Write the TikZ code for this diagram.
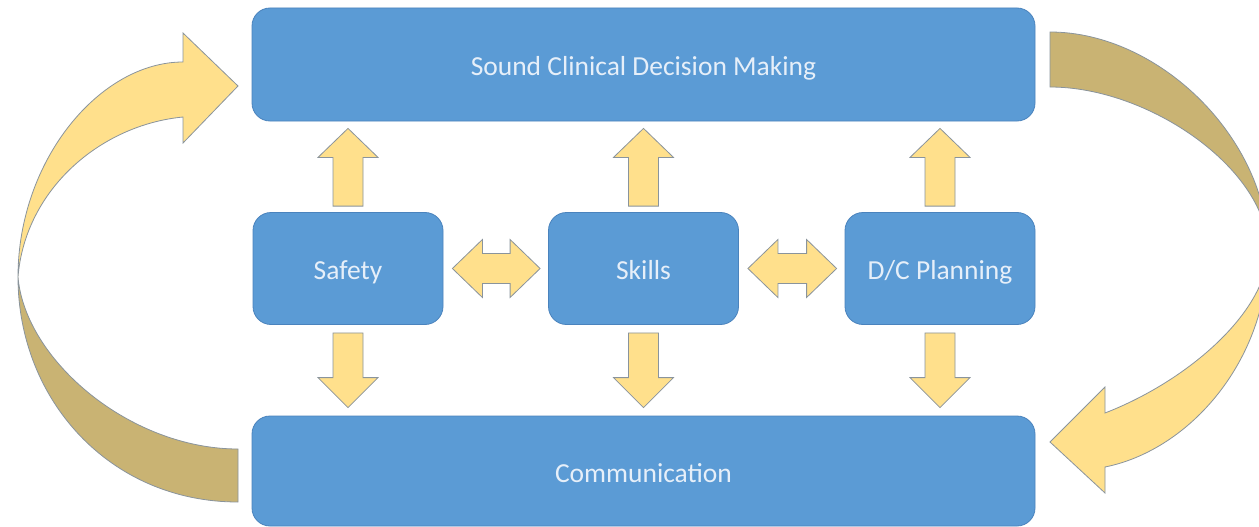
\documentclass[tikz,border=0pt]{standalone}
\usepackage{fontspec}
\setmainfont{Carlito}
\usetikzlibrary{calc}
\definecolor{boxblue}{HTML}{5B9BD5}
\definecolor{boxedge}{HTML}{4A83BD}
\definecolor{lighty}{HTML}{FFE08C}
\definecolor{darky}{HTML}{C9B373}
\definecolor{arredge}{HTML}{8A949C}
\definecolor{txt}{HTML}{E6EFF9}
\tikzset{
  box/.style={draw=boxedge, line width=0.8pt, fill=boxblue, rounded corners=18pt,
    text=txt, font=\fontsize{27.5}{32}\selectfont, inner sep=0pt,
    text height=22pt, text depth=0pt},
  bigbox/.style={box, minimum width=783pt, minimum height=113pt},
  midbox/.style={box, minimum width=190pt, minimum height=112pt},
  blockarrow/.style={draw=arredge, line width=0.8pt, fill=lighty, line join=miter},
  backband/.style={draw=arredge, line width=0.8pt, fill=darky, line join=miter},
  frontband/.style={draw=arredge, line width=0.8pt, fill=lighty, line join=miter}
}
\newcommand\uparr[2]{\draw[blockarrow] let \p1=($(#1.north)+(0,-6)$), \p2=($(#2.south)+(0,7)$) in
  (\x1-15pt,\y1) -- (\x1-15pt,\y2-29pt) -- (\x1-30pt,\y2-29pt) -- (\x1,\y2) --
  (\x1+30pt,\y2-29pt) -- (\x1+15pt,\y2-29pt) -- (\x1+15pt,\y1) -- cycle;}
\newcommand\downarr[2]{\draw[blockarrow] let \p1=($(#1.south)+(0,8)$), \p2=($(#2.north)+(0,-8)$) in
  (\x1-15pt,\y1) -- (\x1-15pt,\y2+30pt) -- (\x1-30pt,\y2+30pt) -- (\x1,\y2) --
  (\x1+30pt,\y2+30pt) -- (\x1+15pt,\y2+30pt) -- (\x1+15pt,\y1) -- cycle;}
\newcommand\dblarr[2]{\draw[blockarrow] let \p1=($(#1.east)+(9,0)$), \p2=($(#2.west)+(-8,0)$) in
  (\x1,\y1) -- (\x1+30pt,\y1+29pt) -- (\x1+30pt,\y1+15pt) -- (\x2-30pt,\y1+15pt) --
  (\x2-30pt,\y1+29pt) -- (\x2,\y1) -- (\x2-30pt,\y1-29pt) -- (\x2-30pt,\y1-15pt) --
  (\x1+30pt,\y1-15pt) -- (\x1+30pt,\y1-29pt) -- cycle;}
\begin{document}
\begin{tikzpicture}[x=1pt, y=-1pt]
\useasboundingbox[fill=white] (0,0) rectangle (1259,527);
\clip (0,0) rectangle (1259,527);

% boxes
\node[bigbox] (sound) at (643.5,64.5) {Sound Clinical Decision Making};
\node[bigbox, minimum height=110pt] (comm) at (643.5,471) {Communication};
\node[midbox] (safety) at (348,268.5) {Safety};
\node[midbox] (skills) at (643.5,268.5) {Skills};
\node[midbox] (dc) at (940,268.5) {D/C Planning};

% block arrows
\uparr{safety}{sound}
\uparr{skills}{sound}
\uparr{dc}{sound}
\downarr{safety}{comm}
\downarr{skills}{comm}
\downarr{dc}{comm}
\dblarr{safety}{skills}
\dblarr{skills}{dc}

% left curved arrow (Communication -> Sound Clinical Decision Making)
\coordinate (lc) at (18,277);
\draw[backband] (lc) .. controls (18,400) and (110,502) .. (238,502) -- (238,449)
  .. controls (130,449) and (25,360) .. (lc) -- cycle;
\draw[frontband] (lc) .. controls (18,160) and (100,62) .. (183,62) -- (183,33)
  -- (238,86) -- (183,143) -- (183,117) .. controls (100,125) and (25,190) .. (lc) -- cycle;

% right curved arrow (Sound Clinical Decision Making -> Communication)
\coordinate (rc) at (1268,250);
\draw[backband] (1050,32) .. controls (1160,32) and (1268,140) .. (rc)
  .. controls (1268,170) and (1150,87) .. (1050,87) -- cycle;
\draw[frontband] (rc) .. controls (1268,310) and (1190,380) .. (1105,413) -- (1105,387)
  -- (1050,442) -- (1105,493) -- (1105,467) .. controls (1190,450) and (1268,360) .. (rc) -- cycle;
\end{tikzpicture}
\end{document}
